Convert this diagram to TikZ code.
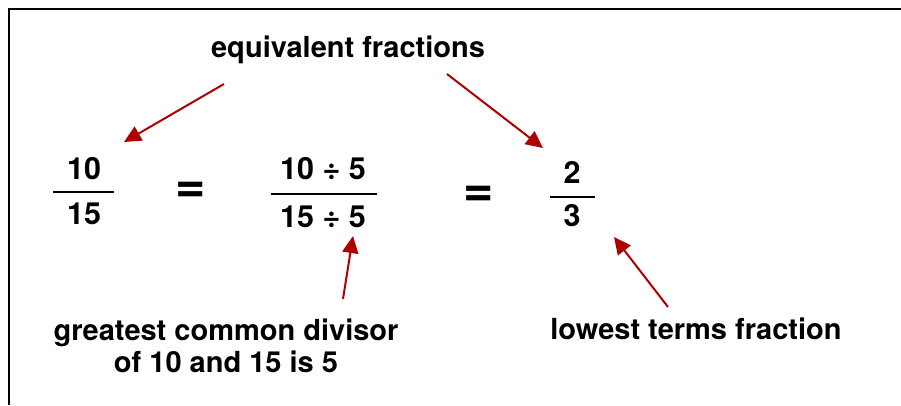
\documentclass[tikz,border=0pt]{standalone}
\usepackage{fontspec}
\setmainfont{TeX Gyre Heros}
\usetikzlibrary{arrows.meta}
\definecolor{pointred}{RGB}{175,0,0}
\tikzset{
  lbl/.style={font=\fontsize{29}{32}\selectfont\bfseries, inner sep=0pt, anchor=base},
  fracpart/.style={font=\fontsize{30.5}{32}\selectfont\bfseries, inner sep=0pt, anchor=base},
  eqsign/.style={font=\fontsize{52}{52}\selectfont\bfseries, inner sep=0pt},
  fracbar/.style={line width=2pt},
  pointer/.style={draw=pointred, line width=2pt, -{Triangle[length=17pt,width=16pt]}}
}
\begin{document}
\begin{tikzpicture}[x=1pt,y=-1pt]
  \useasboundingbox (0,0) rectangle (901,405);
  % frame (only top and left edges are visible)
  \draw[line width=2pt] (9,405) -- (9,9) -- (901,9);

  \node[lbl] (equiv) at (348,57) {equivalent fractions};

  % 10/15
  \node[fracpart] (num1) at (84,179) {10};
  \node[fracpart] (den1) at (84,224) {15};
  \draw[fracbar] (53,192) -- (114,192);
  \node[eqsign] (eq1) at (191,192) {=};

  % (10:5)/(15:5)
  \node[fracpart] (num2) at (323,179) {10 ÷ 5};
  \node[fracpart] (den2) at (323,227) {15 ÷ 5};
  \draw[fracbar] (271,194) -- (377,194);
  \node[eqsign] (eq2) at (479,196) {=};

  % 2/3
  \node[fracpart] (num3) at (572,183) {2};
  \node[fracpart] (den3) at (572,226) {3};
  \draw[fracbar] (550,197) -- (595,197);

  \node[lbl] (gcd) at (226,340) {greatest common divisor};
  \node[lbl] (gcdval) at (226,372) {of 10 and 15 is 5};
  \node[lbl] (lowest) at (696,339) {lowest terms fraction};

  % arrows
  \coordinate (p1s) at (224,84);  \coordinate (p1e) at (124,142);
  \coordinate (p2s) at (447,74);  \coordinate (p2e) at (543,148);
  \coordinate (p3s) at (343,299); \coordinate (p3e) at (353,236);
  \coordinate (p4s) at (668,307); \coordinate (p4e) at (614,237);
  \draw[pointer] (p1s) -- (p1e);
  \draw[pointer] (p2s) -- (p2e);
  \draw[pointer] (p3s) -- (p3e);
  \draw[pointer] (p4s) -- (p4e);
\end{tikzpicture}
\end{document}
